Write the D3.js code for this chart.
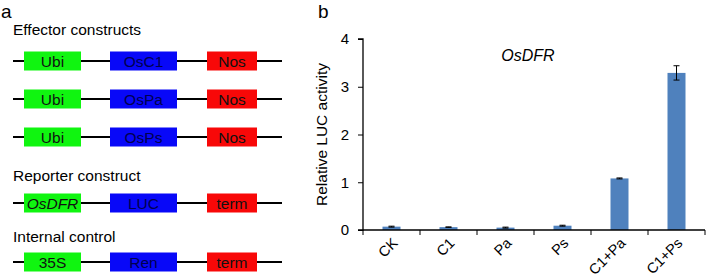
<!DOCTYPE html>
<html lang="en">
<head>
<meta charset="UTF-8">
<title>OsDFR constructs and LUC activity</title>
<script src="https://d3js.org/d3.v7.min.js"></script>
<style>
  body { margin: 0; background: #fff; }
  svg { font-family: Arial, "Liberation Sans", sans-serif; }
</style>
</head>
<body>
<svg id="fig" width="709" height="277"></svg>
<script>
// Panel a: construct diagrams
const sectionTitles = ["Effector constructs", "Reporter construct", "Internal control"];
const constructRows = [
  ["Ubi", "OsC1", "Nos"],
  ["Ubi", "OsPa", "Nos"],
  ["Ubi", "OsPs", "Nos"],
  ["OsDFR", "LUC", "term"],
  ["35S", "Ren", "term"]
];
const partColors = ["#10f510", "#0808f8", "#f80808"];

// Panel b: bar chart
const categories = ["CK", "C1", "Pa", "Ps", "C1+Pa", "C1+Ps"];
const values = [0.07, 0.06, 0.05, 0.09, 1.08, 3.29];
const errors = [0.01, 0.005, 0.01, 0.01, 0.01, 0.15];
const yTicks = [0, 1, 2, 3, 4];

const svg = d3.select("#fig");

// ---- panel a ----
svg.append("text").attr("x", 1).attr("y", 18).attr("font-size", 19).text("a");

// row positions (vertical) for the five construct lines
const rowY = [61, 99, 137, 203, 262];
const titleY = [35, 181, 242];
sectionTitles.forEach((t, i) => {
  svg.append("text").attr("x", 13).attr("y", titleY[i]).attr("font-size", 15.5).text(t);
});

const partX = [[24, 81], [110, 177], [207, 257]];
const boxH = 19;

constructRows.forEach((row, r) => {
  const g = svg.append("g").attr("transform", `translate(0,${rowY[r]})`);
  g.append("line").attr("x1", 13).attr("x2", 282).attr("y1", 0).attr("y2", 0)
    .attr("stroke", "#000").attr("stroke-width", 2);
  row.forEach((label, j) => {
    const [x0, x1] = partX[j];
    g.append("rect").attr("x", x0).attr("y", -boxH / 2).attr("width", x1 - x0).attr("height", boxH)
      .attr("fill", partColors[j]);
    g.append("text").attr("x", (x0 + x1) / 2).attr("y", 5.5).attr("text-anchor", "middle")
      .attr("font-size", 15.5).attr("fill", j === 1 ? "#000050" : "#111")
      .attr("font-style", label === "OsDFR" ? "italic" : null)
      .text(label);
  });
});

// ---- panel b ----
svg.append("text").attr("x", 318).attr("y", 18).attr("font-size", 19).text("b");

const x0 = 363, x1 = 705, yTop = 39, yBot = 230;
const x = d3.scaleBand().domain(categories).range([x0, x1]);
const y = d3.scaleLinear().domain([0, 4]).range([yBot, yTop]);

// y axis
const yAxis = svg.append("g").attr("transform", `translate(${x0},0)`)
  .call(d3.axisLeft(y).tickValues(yTicks).tickSize(5).tickPadding(9).tickFormat(d3.format("d")));
yAxis.select(".domain").attr("d", `M-5,${yTop}H0V${yBot}H-5`).attr("stroke-width", 1.3);
yAxis.selectAll("text").attr("font-size", 15).attr("font-family", "Arial, 'Liberation Sans', sans-serif");

// bars
const barW = 18;
svg.selectAll(".bar").data(categories).enter().append("rect")
  .attr("class", "bar")
  .attr("x", d => x(d) + x.bandwidth() / 2 - barW / 2)
  .attr("y", (d, i) => y(values[i]))
  .attr("width", barW)
  .attr("height", (d, i) => yBot - y(values[i]))
  .attr("fill", "#4f81bd");

// error bars
const eb = svg.selectAll(".err").data(categories).enter().append("g").attr("class", "err")
  .attr("transform", d => `translate(${x(d) + x.bandwidth() / 2},0)`);
eb.append("line").attr("y1", (d, i) => y(values[i] + errors[i])).attr("y2", (d, i) => y(values[i] - errors[i]))
  .attr("stroke", "#000").attr("stroke-width", 1);
[1, -1].forEach(s => {
  eb.append("line").attr("x1", -3).attr("x2", 3)
    .attr("y1", (d, i) => y(values[i] + s * errors[i])).attr("y2", (d, i) => y(values[i] + s * errors[i]))
    .attr("stroke", "#000").attr("stroke-width", 1);
});

// x axis with ticks at band edges
const xAxis = svg.append("g").attr("transform", `translate(0,${yBot})`);
xAxis.append("line").attr("x1", x0).attr("x2", x1).attr("stroke", "#000").attr("stroke-width", 1.3);
const edges = categories.map(c => x(c)).concat([x1]);
xAxis.selectAll(".tk").data(edges).enter().append("line")
  .attr("x1", d => d).attr("x2", d => d).attr("y1", 0).attr("y2", 5).attr("stroke", "#000");
xAxis.selectAll(".lbl").data(categories).enter().append("text")
  .attr("text-anchor", "end").attr("font-size", 14.5)
  .attr("transform", d => `translate(${x(d) + x.bandwidth() / 2 + 7},${14}) rotate(-45)`)
  .text(d => d);

// y label
svg.append("text").attr("transform", `translate(327,${(yTop + yBot) / 2}) rotate(-90)`)
  .attr("text-anchor", "middle").attr("font-size", 15.5).text("Relative LUC activity");

// gene name
svg.append("text").attr("x", 528).attr("y", 61).attr("text-anchor", "middle")
  .attr("font-size", 16).attr("font-style", "italic").text("OsDFR");
</script>
</body>
</html>
